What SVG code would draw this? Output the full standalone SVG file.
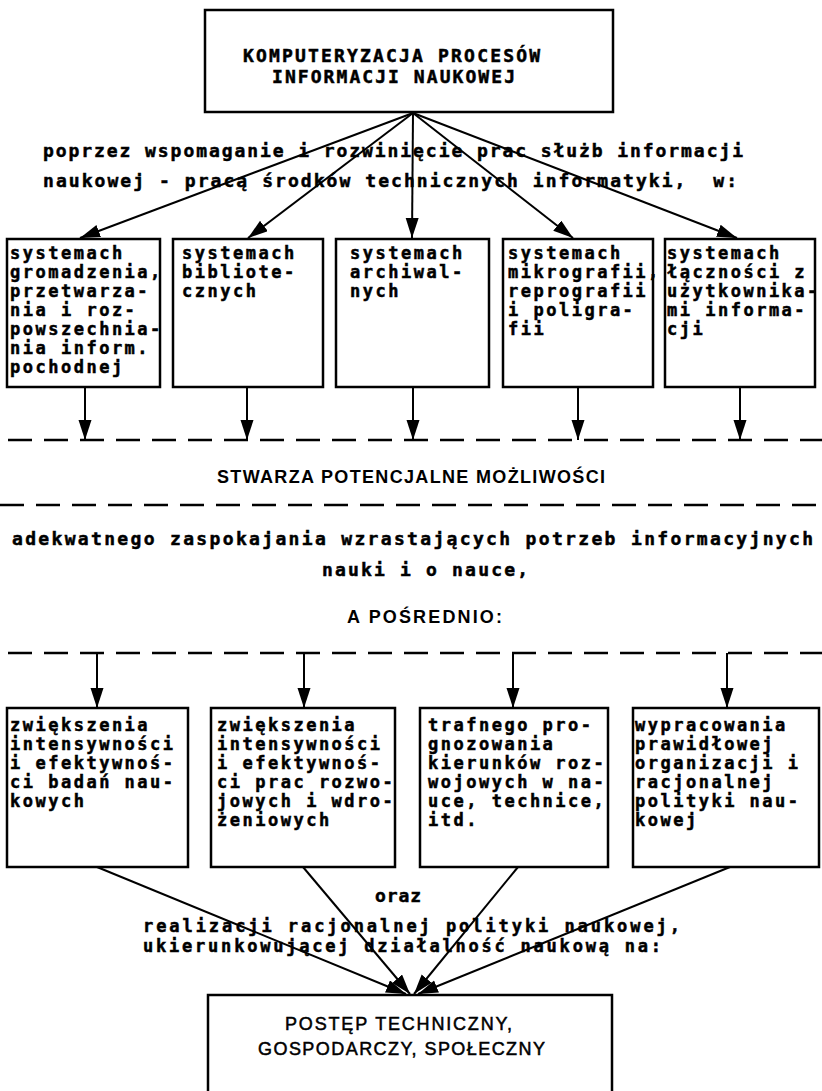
<svg xmlns="http://www.w3.org/2000/svg" width="822" height="1091" viewBox="0 0 822 1091">
<defs>
<style>
.box{fill:#fff;stroke:#000;stroke-width:2.5}
.mono{font-family:"DejaVu Sans Mono","Liberation Mono",monospace;font-weight:bold;font-size:17px;letter-spacing:2.5px;fill:#000;stroke:#000;stroke-width:0.5}
.mfit{font-family:"DejaVu Sans Mono","Liberation Mono",monospace;font-weight:bold;font-size:18px;fill:#000;stroke:#000;stroke-width:0.5}
.msm{font-family:"DejaVu Sans Mono","Liberation Mono",monospace;font-weight:bold;font-size:17px;fill:#000;stroke:#000;stroke-width:0.5}
.caps{font-family:"Liberation Sans","DejaVu Sans",sans-serif;font-weight:bold;font-size:18px;fill:#000}
.capsn{font-family:"Liberation Sans","DejaVu Sans",sans-serif;font-size:18px;fill:#000;stroke:#000;stroke-width:0.5}
.ln{stroke:#000;stroke-width:2;fill:none}
.dash{stroke:#000;stroke-width:2.5;stroke-dasharray:24 12;fill:none}
</style>
<marker id="ah" markerUnits="userSpaceOnUse" markerWidth="22" markerHeight="14" refX="20" refY="6.5" orient="auto">
<path d="M0,0 L20,6.5 L0,13 Z" fill="#000"/>
</marker>
</defs>
<rect x="0" y="0" width="822" height="1091" fill="#fff"/>

<g id="connectors">
<line class="ln" x1="413" y1="113" x2="80" y2="238" marker-end="url(#ah)"/>
<line class="ln" x1="413" y1="113" x2="248" y2="238" marker-end="url(#ah)"/>
<line class="ln" x1="413" y1="113" x2="412" y2="238" marker-end="url(#ah)"/>
<line class="ln" x1="413" y1="113" x2="573" y2="238" marker-end="url(#ah)"/>
<line class="ln" x1="413" y1="113" x2="737" y2="238" marker-end="url(#ah)"/>
<line class="ln" x1="85" y1="387" x2="85" y2="440" marker-end="url(#ah)"/>
<line class="ln" x1="247" y1="387" x2="247" y2="440" marker-end="url(#ah)"/>
<line class="ln" x1="413" y1="387" x2="413" y2="440" marker-end="url(#ah)"/>
<line class="ln" x1="578" y1="387" x2="578" y2="440" marker-end="url(#ah)"/>
<line class="ln" x1="740" y1="387" x2="740" y2="440" marker-end="url(#ah)"/>
<line class="dash" x1="8" y1="440" x2="822" y2="440"/>
<line class="dash" x1="0" y1="505" x2="822" y2="505"/>
<line class="dash" x1="8" y1="653" x2="822" y2="653"/>
<line class="ln" x1="97" y1="653" x2="97" y2="708" marker-end="url(#ah)"/>
<line class="ln" x1="304" y1="653" x2="304" y2="708" marker-end="url(#ah)"/>
<line class="ln" x1="513" y1="653" x2="513" y2="708" marker-end="url(#ah)"/>
<line class="ln" x1="727" y1="653" x2="727" y2="708" marker-end="url(#ah)"/>
<line class="ln" x1="97" y1="867" x2="406" y2="994" marker-end="url(#ah)"/>
<line class="ln" x1="303" y1="867" x2="410" y2="994" marker-end="url(#ah)"/>
<line class="ln" x1="518" y1="867" x2="414" y2="994" marker-end="url(#ah)"/>
<line class="ln" x1="730" y1="867" x2="418" y2="994" marker-end="url(#ah)"/>
</g>

<g id="top">
<rect class="box" x="205" y="10" width="408" height="102"/>
<text class="mfit" x="243" y="62" textLength="297" lengthAdjust="spacing">KOMPUTERYZACJA PROCESÓW</text>
<text class="mfit" x="272" y="83" textLength="243" lengthAdjust="spacing">INFORMACJI NAUKOWEJ</text>
</g>

<g id="intro">
<text class="mfit" x="43" y="157" textLength="700" lengthAdjust="spacing">poprzez wspomaganie i rozwinięcie prac służb informacji</text>
<text class="mfit" x="43" y="187" textLength="694" lengthAdjust="spacing" xml:space="preserve">naukowej - pracą środków technicznych informatyki,  w:</text>
</g>

<g id="s1">
<rect class="box" x="7" y="239" width="153" height="148"/>
<text class="mono" x="10" y="259">systemach</text>
<text class="mono" x="10" y="278">gromadzenia,</text>
<text class="mono" x="10" y="297">przetwarza-</text>
<text class="mono" x="10" y="316">nia i roz-</text>
<text class="mono" x="10" y="335">powszechnia-</text>
<text class="mono" x="10" y="354">nia inform.</text>
<text class="mono" x="10" y="373">pochodnej</text>
</g>
<g id="s2">
<rect class="box" x="173" y="239" width="150" height="148"/>
<text class="mono" x="182" y="259">systemach</text>
<text class="mono" x="182" y="278">bibliote-</text>
<text class="mono" x="182" y="297">cznych</text>
</g>
<g id="s3">
<rect class="box" x="336" y="239" width="153" height="148"/>
<text class="mono" x="350" y="259">systemach</text>
<text class="mono" x="350" y="278">archiwal-</text>
<text class="mono" x="350" y="297">nych</text>
</g>
<g id="s4">
<rect class="box" x="503" y="239" width="150" height="148"/>
<text class="mono" x="508" y="259">systemach</text>
<text class="mono" x="508" y="278">mikrografii,</text>
<text class="mono" x="508" y="297">reprografii</text>
<text class="mono" x="508" y="316">i poligra-</text>
<text class="mono" x="508" y="335">fii</text>
</g>
<g id="s5">
<rect class="box" x="665" y="239" width="150" height="148"/>
<text class="mono" x="667" y="259">systemach</text>
<text class="mono" x="667" y="278">łączności z</text>
<text class="mono" x="667" y="297">użytkownika-</text>
<text class="mono" x="667" y="316">mi informa-</text>
<text class="mono" x="667" y="335">cji</text>
</g>

<g id="middle">
<text class="caps" x="217" y="483" textLength="388" lengthAdjust="spacing">STWARZA POTENCJALNE MOŻLIWOŚCI</text>
<text class="mfit" x="12" y="545" textLength="801" lengthAdjust="spacing">adekwatnego zaspokajania wzrastających potrzeb informacyjnych</text>
<text class="mfit" x="322" y="576" textLength="206" lengthAdjust="spacing">nauki i o nauce,</text>
<text class="caps" x="347" y="623" textLength="155" lengthAdjust="spacing">A POŚREDNIO:</text>
</g>

<g id="r1">
<rect class="box" x="7" y="708" width="181" height="159"/>
<text class="mono" x="10" y="731">zwiększenia</text>
<text class="mono" x="10" y="750">intensywności</text>
<text class="mono" x="10" y="769">i efektywnoś-</text>
<text class="mono" x="10" y="788">ci badań nau-</text>
<text class="mono" x="10" y="807">kowych</text>
</g>
<g id="r2">
<rect class="box" x="211" y="708" width="184" height="159"/>
<text class="mono" x="217" y="731">zwiększenia</text>
<text class="mono" x="217" y="750">intensywności</text>
<text class="mono" x="217" y="769">i efektywnoś-</text>
<text class="mono" x="217" y="788">ci prac rozwo-</text>
<text class="mono" x="217" y="807">jowych i wdro-</text>
<text class="mono" x="217" y="826">żeniowych</text>
</g>
<g id="r3">
<rect class="box" x="420" y="708" width="188" height="159"/>
<text class="mono" x="428" y="731">trafnego pro-</text>
<text class="mono" x="428" y="750">gnozowania</text>
<text class="mono" x="428" y="769">kierunków roz-</text>
<text class="mono" x="428" y="788">wojowych w na-</text>
<text class="mono" x="428" y="807">uce, technice,</text>
<text class="mono" x="428" y="826">itd.</text>
</g>
<g id="r4">
<rect class="box" x="633" y="708" width="186" height="159"/>
<text class="mono" x="635" y="731">wypracowania</text>
<text class="mono" x="635" y="750">prawidłowej</text>
<text class="mono" x="635" y="769">organizacji i</text>
<text class="mono" x="635" y="788">racjonalnej</text>
<text class="mono" x="635" y="807">polityki nau-</text>
<text class="mono" x="635" y="826">kowej</text>
</g>

<g id="lower">
<text class="mfit" x="375" y="902" textLength="46" lengthAdjust="spacing">oraz</text>
<text class="msm" x="143" y="932" textLength="537" lengthAdjust="spacing">realizacji racjonalnej polityki naukowej,</text>
<text class="msm" x="143" y="952" textLength="518" lengthAdjust="spacing">ukierunkowującej działalność naukową na:</text>
</g>

<g id="bottom">
<rect class="box" x="208" y="995" width="404" height="110"/>
<text class="capsn" x="285" y="1030" textLength="227" lengthAdjust="spacing">POSTĘP TECHNICZNY,</text>
<text class="capsn" x="258" y="1055" textLength="287" lengthAdjust="spacing">GOSPODARCZY, SPOŁECZNY</text>
</g>
</svg>
